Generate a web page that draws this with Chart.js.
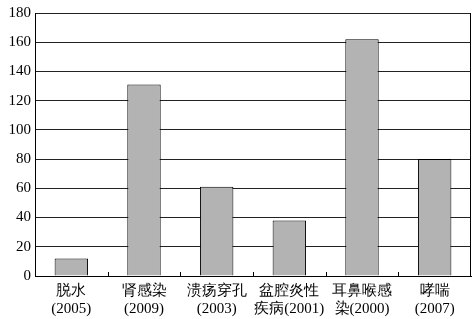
<!DOCTYPE html>
<html><head><meta charset="utf-8">
<script src="https://cdn.jsdelivr.net/npm/chart.js@4/dist/chart.umd.min.js"></script>
<style>html,body{margin:0;padding:0;background:#fff}#w{width:476px;height:319px}</style>
</head><body><div id="w"><canvas id="c"></canvas></div>
<script>
const categories = [["脱水","(2005)"],["肾感染","(2009)"],["溃疡穿孔","(2003)"],["盆腔炎性","疾病(2001)"],["耳鼻喉感","染(2000)"],["哮喘","(2007)"]];
const values = [12, 131, 61, 38, 162, 80];
const yTicks = [0,20,40,60,80,100,120,140,160,180];

const innerTicks = {
  id:'innerTicks',
  afterDatasetsDraw(chart){
    const x = chart.scales.x, ctx = chart.ctx, a = chart.chartArea;
    ctx.save(); ctx.strokeStyle='#000'; ctx.lineWidth=1;
    for(let i=1;i<categories.length;i++){
      const px = Math.round((x.getPixelForValue(i-1)+x.getPixelForValue(i))/2)+0.5;
      ctx.beginPath(); ctx.moveTo(px,a.bottom); ctx.lineTo(px,a.bottom-4); ctx.stroke();
    }
    ctx.restore();
  }
};
const frame = {id:'frame',afterDraw(chart){const a=chart.chartArea,ctx=chart.ctx;ctx.save();ctx.strokeStyle='#000';ctx.lineWidth=1;ctx.beginPath();ctx.moveTo(a.right-0.5,a.top);ctx.lineTo(a.right-0.5,a.bottom);ctx.stroke();ctx.restore();}};

new Chart(document.getElementById('c'),{
  type:'bar',
  data:{labels:categories,datasets:[{data:values,backgroundColor:'#b3b3b3',borderColor:'#000',borderWidth:1,categoryPercentage:1,barPercentage:0.46}]},
  options:{
    responsive:true,maintainAspectRatio:false,animation:false,
    layout:{padding:{top:13,right:5,left:0,bottom:0}},
    plugins:{legend:{display:false},tooltip:{enabled:false}},
    scales:{
      x:{grid:{display:false,drawTicks:false},border:{display:true,color:'#000',width:1},
         ticks:{color:'#000',font:{family:'Liberation Serif',size:15},padding:6,maxRotation:0,autoSkip:false},
         afterFit(s){s.height=43;}},
      y:{min:0,max:180,afterBuildTicks(s){s.ticks=yTicks.map(v=>({value:v}));},
         grid:{color:'#222',lineWidth:1,drawTicks:false},border:{display:true,color:'#000',width:1},
         ticks:{color:'#000',font:{family:'Liberation Serif',size:15},padding:4},
         afterFit(s){s.width=35;}}
    }
  },
  plugins:[innerTicks,frame]
});
</script></body></html>
